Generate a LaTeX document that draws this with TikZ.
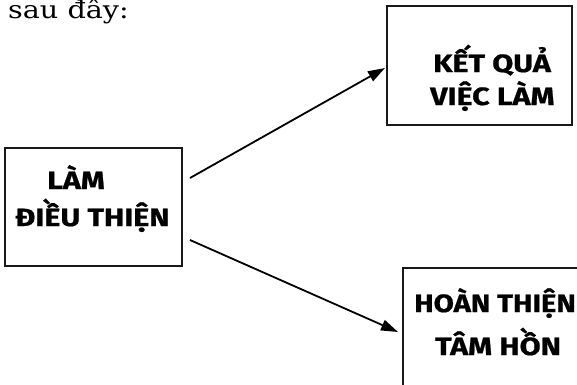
\documentclass[tikz,border=0pt]{standalone}
\usepackage{fontspec}
\usepackage{graphicx}
\setmainfont{DejaVu Serif}
\newfontfamily\boxfont[BoldFeatures={FakeBold=0.7}]{Fira Sans}
\newcommand{\widetext}[2][1.22]{\scalebox{#1}[1]{#2}}
\newcommand{\wideserif}[1]{\scalebox{1.17}[1]{#1}}
\usetikzlibrary{arrows.meta}
\begin{document}
\begin{tikzpicture}[x=1pt,y=-1pt,
  boxshape/.style={draw=black!90, line width=2.2pt, inner sep=0pt},
  boxtext/.style={anchor=base west, inner sep=0pt, font=\boxfont\bfseries\fontsize{25}{28}\selectfont},
  arr/.style={line width=1.8pt, -{Triangle[length=17pt,width=11pt]}}]
\useasboundingbox (0,0) rectangle (577,384);
\clip (0,0) rectangle (577,384);
\node[anchor=base west, inner sep=0pt, font=\fontsize{24.5}{27}\selectfont] (intro) at (8,18) {\wideserif{sau đây:}};
% boxes
\node[boxshape, minimum width=177pt, minimum height=118pt] (lbox) at (93.5,207) {};
\node[boxshape, minimum width=185pt, minimum height=119pt] (tbox) at (479.5,65.5) {};
\node[boxshape, minimum width=190pt, minimum height=140pt] (bbox) at (498,338) {};
% texts
\node[boxtext] (l1) at (47,189) {\widetext{LÀM}};
\node[boxtext] (l2) at (15,226) {\widetext{ĐIỀU THIỆN}};
\node[boxtext] (t1) at (433,72) {\widetext{KẾT QUẢ}};
\node[boxtext] (t2) at (430,105) {\widetext{VIỆC LÀM}};
\node[boxtext] (b1) at (414,312) {\widetext[1.17]{HOÀN THIỆN}};
\node[boxtext] (b2) at (435,355) {\widetext{TÂM HỒN}};
% arrows
\coordinate (s1) at (190,178);
\coordinate (e1) at (385,68);
\coordinate (s2) at (190,240);
\coordinate (e2) at (398,332);
\draw[arr] (s1) -- (e1);
\draw[arr] (s2) -- (e2);
\end{tikzpicture}
\end{document}
